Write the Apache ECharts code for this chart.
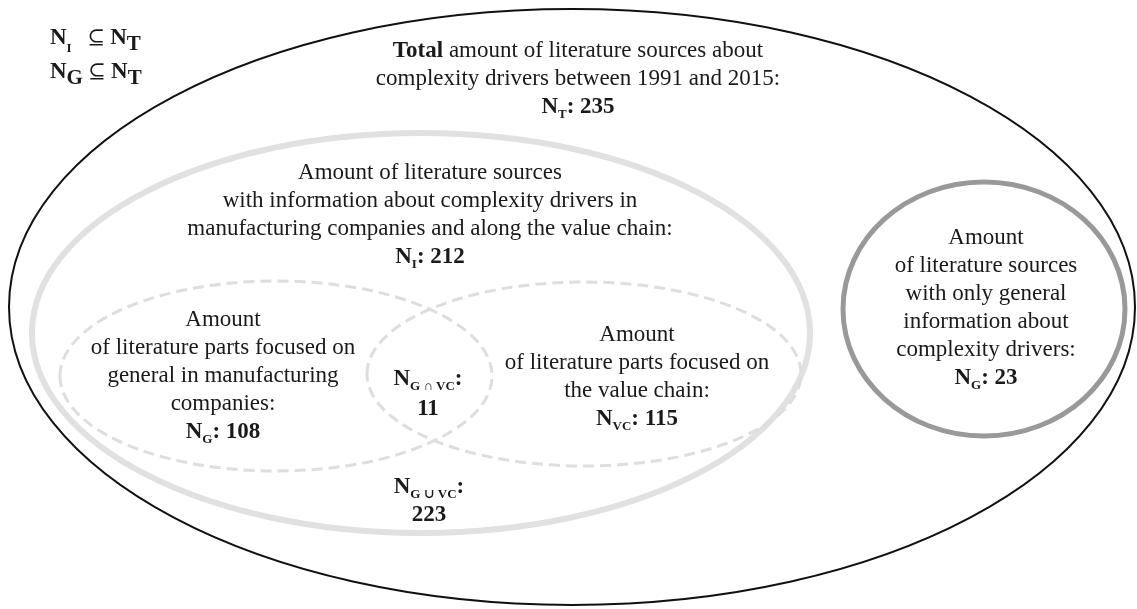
<!DOCTYPE html>
<html>
<head>
<meta charset="utf-8">
<script src="https://cdn.jsdelivr.net/npm/echarts@6/dist/echarts.min.js"></script>
<style>
html, body { margin: 0; padding: 0; background: #fff; }
#main { width: 1137px; height: 609px; }
</style>
</head>
<body>
<div id="main"></div>
<script>
// set sizes
var setKeys = ['T', 'I', 'G', 'VC', 'G ∩ VC', 'G ∪ VC', 'G'];
var setCounts = [235, 212, 108, 115, 11, 223, 23];

// description lines of each set
var descTotal = ['{b|Total}{r| amount of literature sources about}', '{r|complexity drivers between 1991 and 2015:}'];
var descInfo = ['Amount of literature sources', 'with information about complexity drivers in', 'manufacturing companies and along the value chain:'];
var descGeneral = ['Amount', 'of literature parts focused on', 'general in manufacturing', 'companies:'];
var descValueChain = ['Amount', 'of literature parts focused on', 'the value chain:'];
var descOnlyGeneral = ['Amount', 'of literature sources', 'with only general', 'information about', 'complexity drivers:'];

var serif = '"Liberation Serif", "Times New Roman", "DejaVu Serif", serif';
var textColor = '#1a1a1a';

function plain(lines) {
    return lines.map(function (l) { return l.indexOf('{') === 0 ? l : '{r|' + l + '}'; });
}
function countLine(i) {
    return '{b|N}{s|' + setKeys[i] + '}{b|: ' + setCounts[i] + '}';
}

var blocks = [
    plain(descTotal).concat([countLine(0)]),
    plain(descInfo).concat([countLine(1)]),
    plain(descGeneral).concat([countLine(2)]),
    plain(descValueChain).concat([countLine(3)]),
    ['{b|N}{s|' + setKeys[4] + '}{b|:}', '{bl|' + setCounts[4] + '}'],
    ['{b|N}{s|' + setKeys[5] + '}{b|:}', '{b|' + setCounts[5] + '}'],
    plain(descOnlyGeneral).concat([countLine(6)]),
    ['{f|N}{fs|I}{o|   ⊆ }{f|N}{ft|T}', '{f|N}{ft|G}{o| ⊆ }{f|N}{ft|T}']
];

// drawing layout, in pixel units of the 1137 x 609 canvas
var shapes = [
    { cx: 572, cy: 307, rx: 563, ry: 298, stroke: '#111111', width: 2, dash: null },
    { cx: 421, cy: 333, rx: 389, ry: 200, stroke: '#e1e1e1', width: 6, dash: null },
    { cx: 276, cy: 376, rx: 216, ry: 95, stroke: '#dedede', width: 3, dash: [11, 6] },
    { cx: 584, cy: 374, rx: 217, ry: 92, stroke: '#dedede', width: 3, dash: [11, 6] },
    { cx: 984, cy: 309, rx: 141, ry: 127, stroke: '#999999', width: 5, dash: null }
];
var labelPos = [
    { x: 578, y: 79, align: 'center' },
    { x: 430, y: 215, align: 'center' },
    { x: 223, y: 376, align: 'center' },
    { x: 637, y: 377, align: 'center' },
    { x: 428, y: 395, align: 'center' },
    { x: 429, y: 501, align: 'center' },
    { x: 986, y: 308, align: 'center' },
    { x: 50, y: 55, align: 'left' }
];

var rich = {
    r: { fontFamily: serif, fontSize: 23, lineHeight: 28, fill: textColor },
    b: { fontFamily: serif, fontSize: 23, fontWeight: 'bold', lineHeight: 28, fill: textColor },
    bl: { fontFamily: serif, fontSize: 23, fontWeight: 'bold', lineHeight: 32, fill: textColor },
    s: { fontFamily: serif, fontSize: 13, fontWeight: 'bold', lineHeight: 12, verticalAlign: 'bottom', fill: textColor },
    f: { fontFamily: serif, fontSize: 23, fontWeight: 'bold', lineHeight: 34, fill: textColor },
    o: { fontFamily: serif, fontSize: 21, lineHeight: 34, fill: textColor },
    fs: { fontFamily: serif, fontSize: 13, fontWeight: 'bold', lineHeight: 12, verticalAlign: 'bottom', fill: textColor },
    ft: { fontFamily: serif, fontSize: 21, fontWeight: 'bold', lineHeight: 22, verticalAlign: 'bottom', fill: textColor }
};

var dom = document.getElementById('main');
var myChart = echarts.init(dom, null, { renderer: 'canvas' });

var option = {
    animation: false,
    backgroundColor: '#ffffff',
    grid: { left: 0, right: 0, top: 0, bottom: 0 },
    xAxis: { type: 'value', min: 0, max: 1137, show: false },
    yAxis: { type: 'value', min: 0, max: 609, inverse: true, show: false },
    series: [
        {
            type: 'custom',
            silent: true,
            data: shapes.map(function (s, i) { return [s.cx, s.cy, s.rx, s.ry, i]; }),
            renderItem: function (params, api) {
                var s = shapes[api.value(4)];
                var c = api.coord([api.value(0), api.value(1)]);
                var r = api.size([api.value(2), api.value(3)]);
                return {
                    type: 'ellipse',
                    shape: { cx: c[0], cy: c[1], rx: r[0], ry: r[1] },
                    style: { fill: null, stroke: s.stroke, lineWidth: s.width, lineDash: s.dash }
                };
            }
        },
        {
            type: 'custom',
            silent: true,
            data: labelPos.map(function (p, i) { return [p.x, p.y, i]; }),
            renderItem: function (params, api) {
                var i = api.value(2);
                var c = api.coord([api.value(0), api.value(1)]);
                return {
                    type: 'text',
                    x: c[0],
                    y: c[1],
                    style: {
                        text: blocks[i].join('\n'),
                        align: labelPos[i].align,
                        verticalAlign: 'middle',
                        font: '23px ' + serif,
                        fill: textColor,
                        rich: rich
                    }
                };
            }
        }
    ]
};

if (option && typeof option === 'object') {
    myChart.setOption(option);
}
window.addEventListener('resize', myChart.resize);
</script>
</body>
</html>
